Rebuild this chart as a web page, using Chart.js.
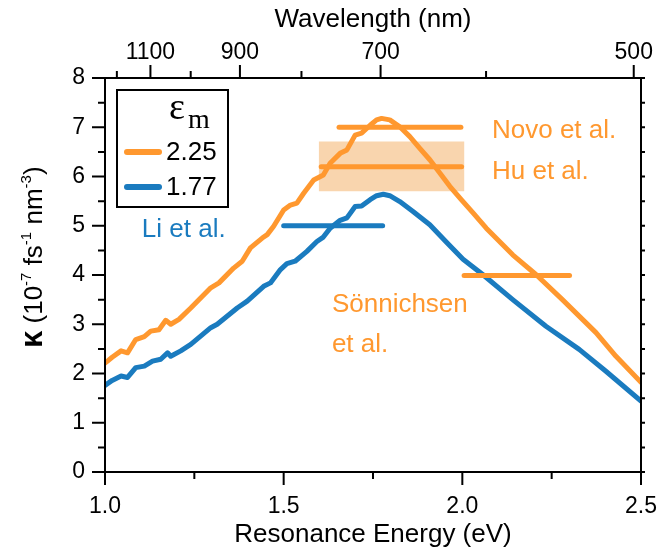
<!DOCTYPE html>
<html>
<head>
<meta charset="utf-8">
<script src="https://cdn.jsdelivr.net/npm/chart.js@4.4.1/dist/chart.umd.min.js"></script>
<style>
  html, body { margin: 0; padding: 0; background: #fff; }
  #wrap { width: 660px; height: 553px; }
</style>
</head>
<body>
<div id="wrap"><canvas id="kappa-chart" width="660" height="553"></canvas></div>
<script>
// eps_m = 2.25 curve
const energy225 = [1.0, 1.02, 1.045, 1.063, 1.086, 1.11, 1.128, 1.151, 1.17, 1.184, 1.207, 1.24, 1.296, 1.319,
  1.36, 1.384, 1.407, 1.44, 1.454, 1.472, 1.5, 1.519, 1.537, 1.556, 1.584, 1.611, 1.63, 1.658, 1.677, 1.7,
  1.718, 1.742, 1.76, 1.774, 1.797, 1.825, 1.853, 1.881, 1.909, 1.937, 1.965, 1.997, 2.03, 2.067, 2.141,
  2.206, 2.28, 2.374, 2.43, 2.5];
const kappa225 = [2.21, 2.33, 2.46, 2.42, 2.69, 2.75, 2.86, 2.89, 3.08, 3.0, 3.1, 3.33, 3.74, 3.84,
  4.14, 4.28, 4.55, 4.75, 4.82, 4.99, 5.32, 5.42, 5.46, 5.66, 5.93, 6.03, 6.27, 6.47, 6.54, 6.84,
  6.88, 7.04, 7.15, 7.18, 7.15, 7.01, 6.81, 6.57, 6.34, 6.07, 5.8, 5.53, 5.26, 4.95, 4.41,
  4.01, 3.5, 2.83, 2.35, 1.82];

// eps_m = 1.77 curve
const energy177 = [1.0, 1.02, 1.045, 1.063, 1.086, 1.11, 1.133, 1.156, 1.175, 1.184, 1.212, 1.24, 1.296, 1.314,
  1.37, 1.398, 1.444, 1.463, 1.491, 1.509, 1.532, 1.565, 1.593, 1.611, 1.63, 1.658, 1.677, 1.7, 1.718,
  1.742, 1.76, 1.779, 1.797, 1.825, 1.862, 1.909, 1.955, 2.002, 2.057, 2.141, 2.234, 2.327, 2.401, 2.5];
const kappa177 = [1.76, 1.86, 1.95, 1.92, 2.12, 2.15, 2.25, 2.29, 2.42, 2.35, 2.46, 2.59, 2.93, 3.0,
  3.33, 3.47, 3.77, 3.84, 4.11, 4.23, 4.28, 4.48, 4.68, 4.77, 4.95, 5.11, 5.16, 5.39, 5.4,
  5.53, 5.61, 5.64, 5.61, 5.49, 5.29, 5.02, 4.67, 4.32, 4.01, 3.5, 2.96, 2.49, 2.05, 1.44];

// literature values (horizontal bars)
const refNames = ['Novo et al.', 'Hu et al.', 'Li et al.', 'Sönnichsen et al.'];
const refStart = [1.655, 1.605, 1.50, 2.005];
const refEnd = [1.996, 1.998, 1.777, 2.30];
const refKappa = [7.0, 6.2, 5.0, 3.99];
const refMedium = ['2.25', '2.25', '1.77', '2.25'];
// Hu et al. uncertainty band
const huBandX = [1.598, 2.006];
const huBandLow = 5.70;
const huBandHigh = 6.71;

// axis ticks
const energyTicks = [1.0, 1.25, 1.5, 1.75, 2.0, 2.25, 2.5];
const energyTickLabels = ['1.0', '', '1.5', '', '2.0', '', '2.5'];
const kappaTicks = [0, 0.5, 1, 1.5, 2, 2.5, 3, 3.5, 4, 4.5, 5, 5.5, 6, 6.5, 7, 7.5, 8];
const wavelengthTicks = [1200, 1100, 1000, 900, 800, 700, 600, 500];
const wavelengthTickLabels = ['', '1100', '', '900', '', '700', '', '500'];

const ORANGE = '#ff982f';
const BLUE = '#1a7bbf';
const BAND = '#f9d5ae';
const SANS = '"Liberation Sans", Arial, sans-serif';
const SERIF = '"Liberation Serif", "Times New Roman", serif';
const HC = 1239.84; // eV*nm

function colorFor(m) { return m === '2.25' ? ORANGE : BLUE; }

function pts(xs, ys) { return xs.map((x, i) => ({ x, y: ys[i] })); }

// keep the plot box fixed: no extra room for labels that stick out at the ends
function fixSize(prop, size) {
  return s => {
    s[prop] = size;
    s.paddingLeft = 0; s.paddingRight = 0; s.paddingTop = 0; s.paddingBottom = 0;
  };
}

// text labels for the literature bars, anchored in data units (left, baseline)
const annotations = [
  { lines: ['Novo et al.'], x: 2.083, y: 6.79, color: ORANGE },
  { lines: ['Hu et al.'], x: 2.083, y: 5.94, color: ORANGE },
  { lines: ['Li et al.'], x: 1.103, y: 4.78, color: BLUE },
  { lines: ['Sönnichsen', 'et al.'], x: 1.635, y: 3.25, color: ORANGE }
];

const datasets = [];
refNames.forEach((name, i) => {
  datasets.push({
    label: name,
    data: [{ x: refStart[i], y: refKappa[i] }, { x: refEnd[i], y: refKappa[i] }],
    borderColor: colorFor(refMedium[i]),
    borderWidth: 5,
    borderCapStyle: 'round',
    pointRadius: 0,
    showLine: true
  });
});
datasets.push({
  label: '2.25', data: pts(energy225, kappa225), borderColor: ORANGE, borderWidth: 5,
  borderJoinStyle: 'round', borderCapStyle: 'round', pointRadius: 0, showLine: true
});
datasets.push({
  label: '1.77', data: pts(energy177, kappa177), borderColor: BLUE, borderWidth: 5,
  borderJoinStyle: 'round', borderCapStyle: 'round', pointRadius: 0, showLine: true
});
datasets.push({
  label: 'band-high', data: huBandX.map(x => ({ x, y: huBandHigh })), borderWidth: 0,
  pointRadius: 0, showLine: true, backgroundColor: BAND, fill: '+1'
});
datasets.push({
  label: 'band-low', data: huBandX.map(x => ({ x, y: huBandLow })), borderWidth: 0,
  pointRadius: 0, showLine: true
});

// frame, tick marks, titles, annotations, legend
const decorPlugin = {
  id: 'decor',
  afterDraw(chart) {
    const ctx = chart.ctx;
    const a = chart.chartArea;
    const sx = chart.scales.x, sy = chart.scales.y, st = chart.scales.x2;
    ctx.save();
    ctx.strokeStyle = '#000';
    ctx.lineWidth = 2;
    ctx.strokeRect(a.left, a.top, a.right - a.left, a.bottom - a.top);

    ctx.beginPath();
    energyTicks.forEach((v, i) => {
      const px = sx.getPixelForValue(v);
      const len = energyTickLabels[i] ? 13 : 7;
      ctx.moveTo(px, a.bottom); ctx.lineTo(px, a.bottom + len);
    });
    kappaTicks.forEach(v => {
      const py = sy.getPixelForValue(v);
      const len = Number.isInteger(v) ? 13 : 7;
      ctx.moveTo(a.left, py); ctx.lineTo(a.left - len, py);
      ctx.moveTo(a.right, py); ctx.lineTo(a.right + 4, py);
    });
    wavelengthTicks.forEach((nm, i) => {
      const px = st.getPixelForValue(HC / nm);
      const len = wavelengthTickLabels[i] ? 13 : 7;
      ctx.moveTo(px, a.top); ctx.lineTo(px, a.top - len);
    });
    ctx.stroke();

    // axis titles
    const cx = (a.left + a.right) / 2;
    ctx.fillStyle = '#000';
    ctx.textAlign = 'center';
    ctx.textBaseline = 'alphabetic';
    ctx.font = '26px ' + SANS;
    ctx.fillText('Resonance Energy (eV)', cx, 542);
    ctx.fillText('Wavelength (nm)', cx, 27);

    // y title with superscripts, rotated
    ctx.save();
    ctx.translate(42, 348);
    ctx.rotate(-Math.PI / 2);
    ctx.textAlign = 'left';
    let xpos = 0;
    const runs = [
      { t: 'κ', f: 'bold 31px ' + SANS, dy: 0 },
      { t: ' (10', f: '26px ' + SANS, dy: 0 },
      { t: '-7', f: '15px ' + SANS, dy: -11 },
      { t: ' fs', f: '26px ' + SANS, dy: 0 },
      { t: '-1', f: '15px ' + SANS, dy: -11 },
      { t: ' nm', f: '26px ' + SANS, dy: 0 },
      { t: '-3', f: '15px ' + SANS, dy: -11 },
      { t: ')', f: '26px ' + SANS, dy: 0 }
    ];
    runs.forEach(r => {
      ctx.font = r.f;
      ctx.fillText(r.t, xpos, r.dy);
      xpos += ctx.measureText(r.t).width;
    });
    ctx.restore();

    // annotations
    ctx.textAlign = 'left';
    ctx.font = '26px ' + SANS;
    annotations.forEach(an => {
      const px = sx.getPixelForValue(an.x);
      const py = sy.getPixelForValue(an.y);
      ctx.fillStyle = an.color;
      an.lines.forEach((ln, k) => ctx.fillText(ln, px, py + k * 40));
    });

    // legend box
    ctx.strokeStyle = '#000';
    ctx.lineWidth = 2;
    ctx.strokeRect(117, 90, 111, 117);
    ctx.fillStyle = '#000';
    ctx.font = '38px ' + SERIF;
    ctx.fillText('ε', 169, 119);
    ctx.font = '28px ' + SERIF;
    ctx.fillText('m', 188, 128);
    const entries = [['2.25', ORANGE, 152], ['1.77', BLUE, 187]];
    entries.forEach(([lab, col, y]) => {
      ctx.strokeStyle = col;
      ctx.lineWidth = 6;
      ctx.lineCap = 'round';
      ctx.beginPath();
      ctx.moveTo(127, y); ctx.lineTo(159, y);
      ctx.stroke();
      ctx.fillStyle = '#000';
      ctx.font = '26px ' + SANS;
      ctx.textBaseline = 'middle';
      ctx.fillText(lab, 166, y + 1);
      ctx.textBaseline = 'alphabetic';
    });
    ctx.restore();
  }
};

new Chart(document.getElementById('kappa-chart'), {
  type: 'scatter',
  data: { datasets },
  options: {
    responsive: false,
    devicePixelRatio: 1,
    animation: false,
    layout: { padding: 0 },
    plugins: { legend: { display: false }, tooltip: { enabled: false } },
    scales: {
      x: {
        type: 'linear', position: 'bottom', min: 1, max: 2.5,
        afterBuildTicks: s => { s.ticks = energyTicks.map(v => ({ value: v })); },
        afterFit: fixSize('height', 81),
        grid: { display: false, drawTicks: false },
        border: { display: false },
        ticks: {
          autoSkip: false, maxRotation: 0, padding: 21, color: '#000',
          font: { size: 23, family: SANS },
          callback: (v, i) => energyTickLabels[i]
        }
      },
      x2: {
        type: 'linear', position: 'top', min: 1, max: 2.5,
        afterBuildTicks: s => { s.ticks = wavelengthTicks.map(nm => ({ value: HC / nm })); },
        afterFit: fixSize('height', 78),
        grid: { display: false, drawTicks: false },
        border: { display: false },
        ticks: {
          autoSkip: false, maxRotation: 0, padding: 12, color: '#000',
          font: { size: 23, family: SANS },
          callback: (v, i) => wavelengthTickLabels[i]
        }
      },
      y: {
        type: 'linear', position: 'left', min: 0, max: 8,
        afterBuildTicks: s => { s.ticks = kappaTicks.map(v => ({ value: v })); },
        afterFit: fixSize('width', 105),
        grid: { display: false, drawTicks: false },
        border: { display: false },
        ticks: {
          autoSkip: false, padding: 20, color: '#000',
          font: { size: 23, family: SANS },
          callback: v => Number.isInteger(v) ? String(v) : ''
        }
      },
      y2: {
        type: 'linear', position: 'right', min: 0, max: 8,
        afterFit: fixSize('width', 19),
        grid: { display: false, drawTicks: false },
        border: { display: false },
        ticks: { display: false }
      }
    }
  },
  plugins: [decorPlugin]
});
</script>
</body>
</html>
